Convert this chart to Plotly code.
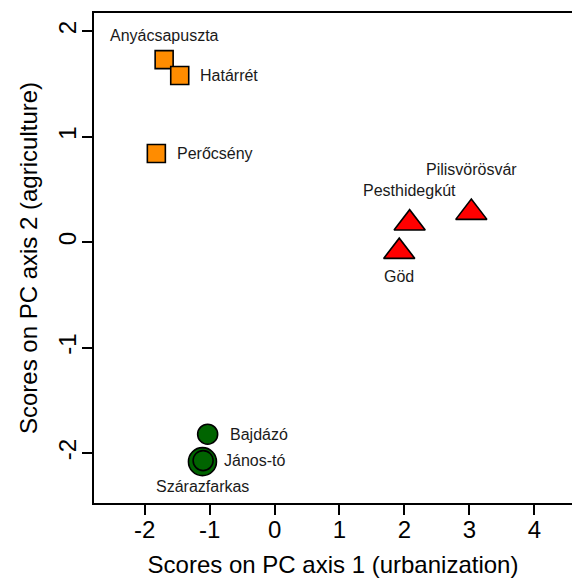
import plotly.graph_objects as go

# PCA site scores (PC1 = urbanization, PC2 = agriculture)
sites = ["Anyácsapuszta", "Határrét", "Perőcsény",
         "Pesthidegkút", "Pilisvörösvár", "Göd",
         "Bajdázó", "Szárazfarkas", "János-tó"]
pc1 = [-1.70, -1.46, -1.82, 2.08, 3.03, 1.92, -1.03, -1.11, -1.10]
pc2 = [1.73, 1.58, 0.84, 0.18, 0.28, -0.09, -1.82, -2.08, -2.07]
group = ["agri", "agri", "agri", "urban", "urban", "urban", "nat", "nat", "nat"]

x_ticks = [-2, -1, 0, 1, 2, 3, 4]
y_ticks = [-2, -1, 0, 1, 2]

# marker style per land-use group
style = {
    "agri": dict(symbol="square", color="darkorange", size=18),
    "urban": dict(symbol="triangle-up", color="red", size=27),
    "nat": dict(symbol="circle", color="darkgreen", size=20),
}
# the overlapping pair is drawn as a ring around a dot
size_override = {"Szárazfarkas": 28}

# label placement: (xanchor, pixel shift x, pixel shift y)
label_pos = {
    "Anyácsapuszta": ("center", 0, 24),
    "Határrét": ("left", 18, 0),
    "Perőcsény": ("left", 19, 0),
    "Pesthidegkút": ("center", 0, 33),
    "Pilisvörösvár": ("center", 0, 43),
    "Göd": ("center", 0, -25),
    "Bajdázó": ("left", 20, 0),
    "János-tó": ("left", 19, 0),
    "Szárazfarkas": ("center", 0, -25),
}

fig = go.Figure()
for g in ["agri", "urban", "nat"]:
    idx = [i for i, v in enumerate(group) if v == g]
    st = style[g]
    fig.add_trace(go.Scatter(
        x=[pc1[i] for i in idx],
        y=[pc2[i] for i in idx],
        mode="markers",
        marker=dict(
            symbol=st["symbol"],
            color=st["color"],
            opacity=1,
            size=[size_override.get(sites[i], st["size"]) for i in idx],
            line=dict(color="black", width=1.6),
        ),
        hovertext=[sites[i] for i in idx],
        showlegend=False,
    ))

for name, x, y in zip(sites, pc1, pc2):
    anchor, dx, dy = label_pos[name]
    fig.add_annotation(
        x=x, y=y, text=name, showarrow=False,
        xanchor=anchor, yanchor="middle", xshift=dx, yshift=dy,
        font=dict(family="Liberation Sans, Arial", size=16, color="#1a1a1a"),
    )

axis_font = dict(family="Liberation Sans, Arial", size=24, color="black")
fig.update_xaxes(
    range=[-2.78, 4.58], tickvals=x_ticks, ticktext=[str(t) for t in x_ticks],
    showgrid=False, zeroline=False,
    showline=True, linecolor="black", linewidth=2, mirror=True,
    ticks="outside", ticklen=10, tickwidth=2, tickcolor="black",
    tickfont=axis_font, ticklabelstandoff=-6,
    title=dict(text="Scores on PC axis 1 (urbanization)", font=axis_font, standoff=14),
)
fig.update_yaxes(
    range=[-2.472, 2.172], tickvals=y_ticks, ticktext=[str(t) for t in y_ticks],
    showgrid=False, zeroline=False,
    showline=True, linecolor="black", linewidth=2,
    ticks="outside", ticklen=10, tickwidth=2, tickcolor="black",
    tickfont=axis_font, tickangle=-90, ticklabelstandoff=-4,
    title=dict(text="Scores on PC axis 2 (agriculture)", font=axis_font, standoff=10),
)
fig.update_layout(
    width=572, height=583,
    margin=dict(l=94, r=0, t=13, b=80),
    paper_bgcolor="white", plot_bgcolor="white",
    font=dict(family="Liberation Sans, Arial"),
)

fig.write_html("out.html")
